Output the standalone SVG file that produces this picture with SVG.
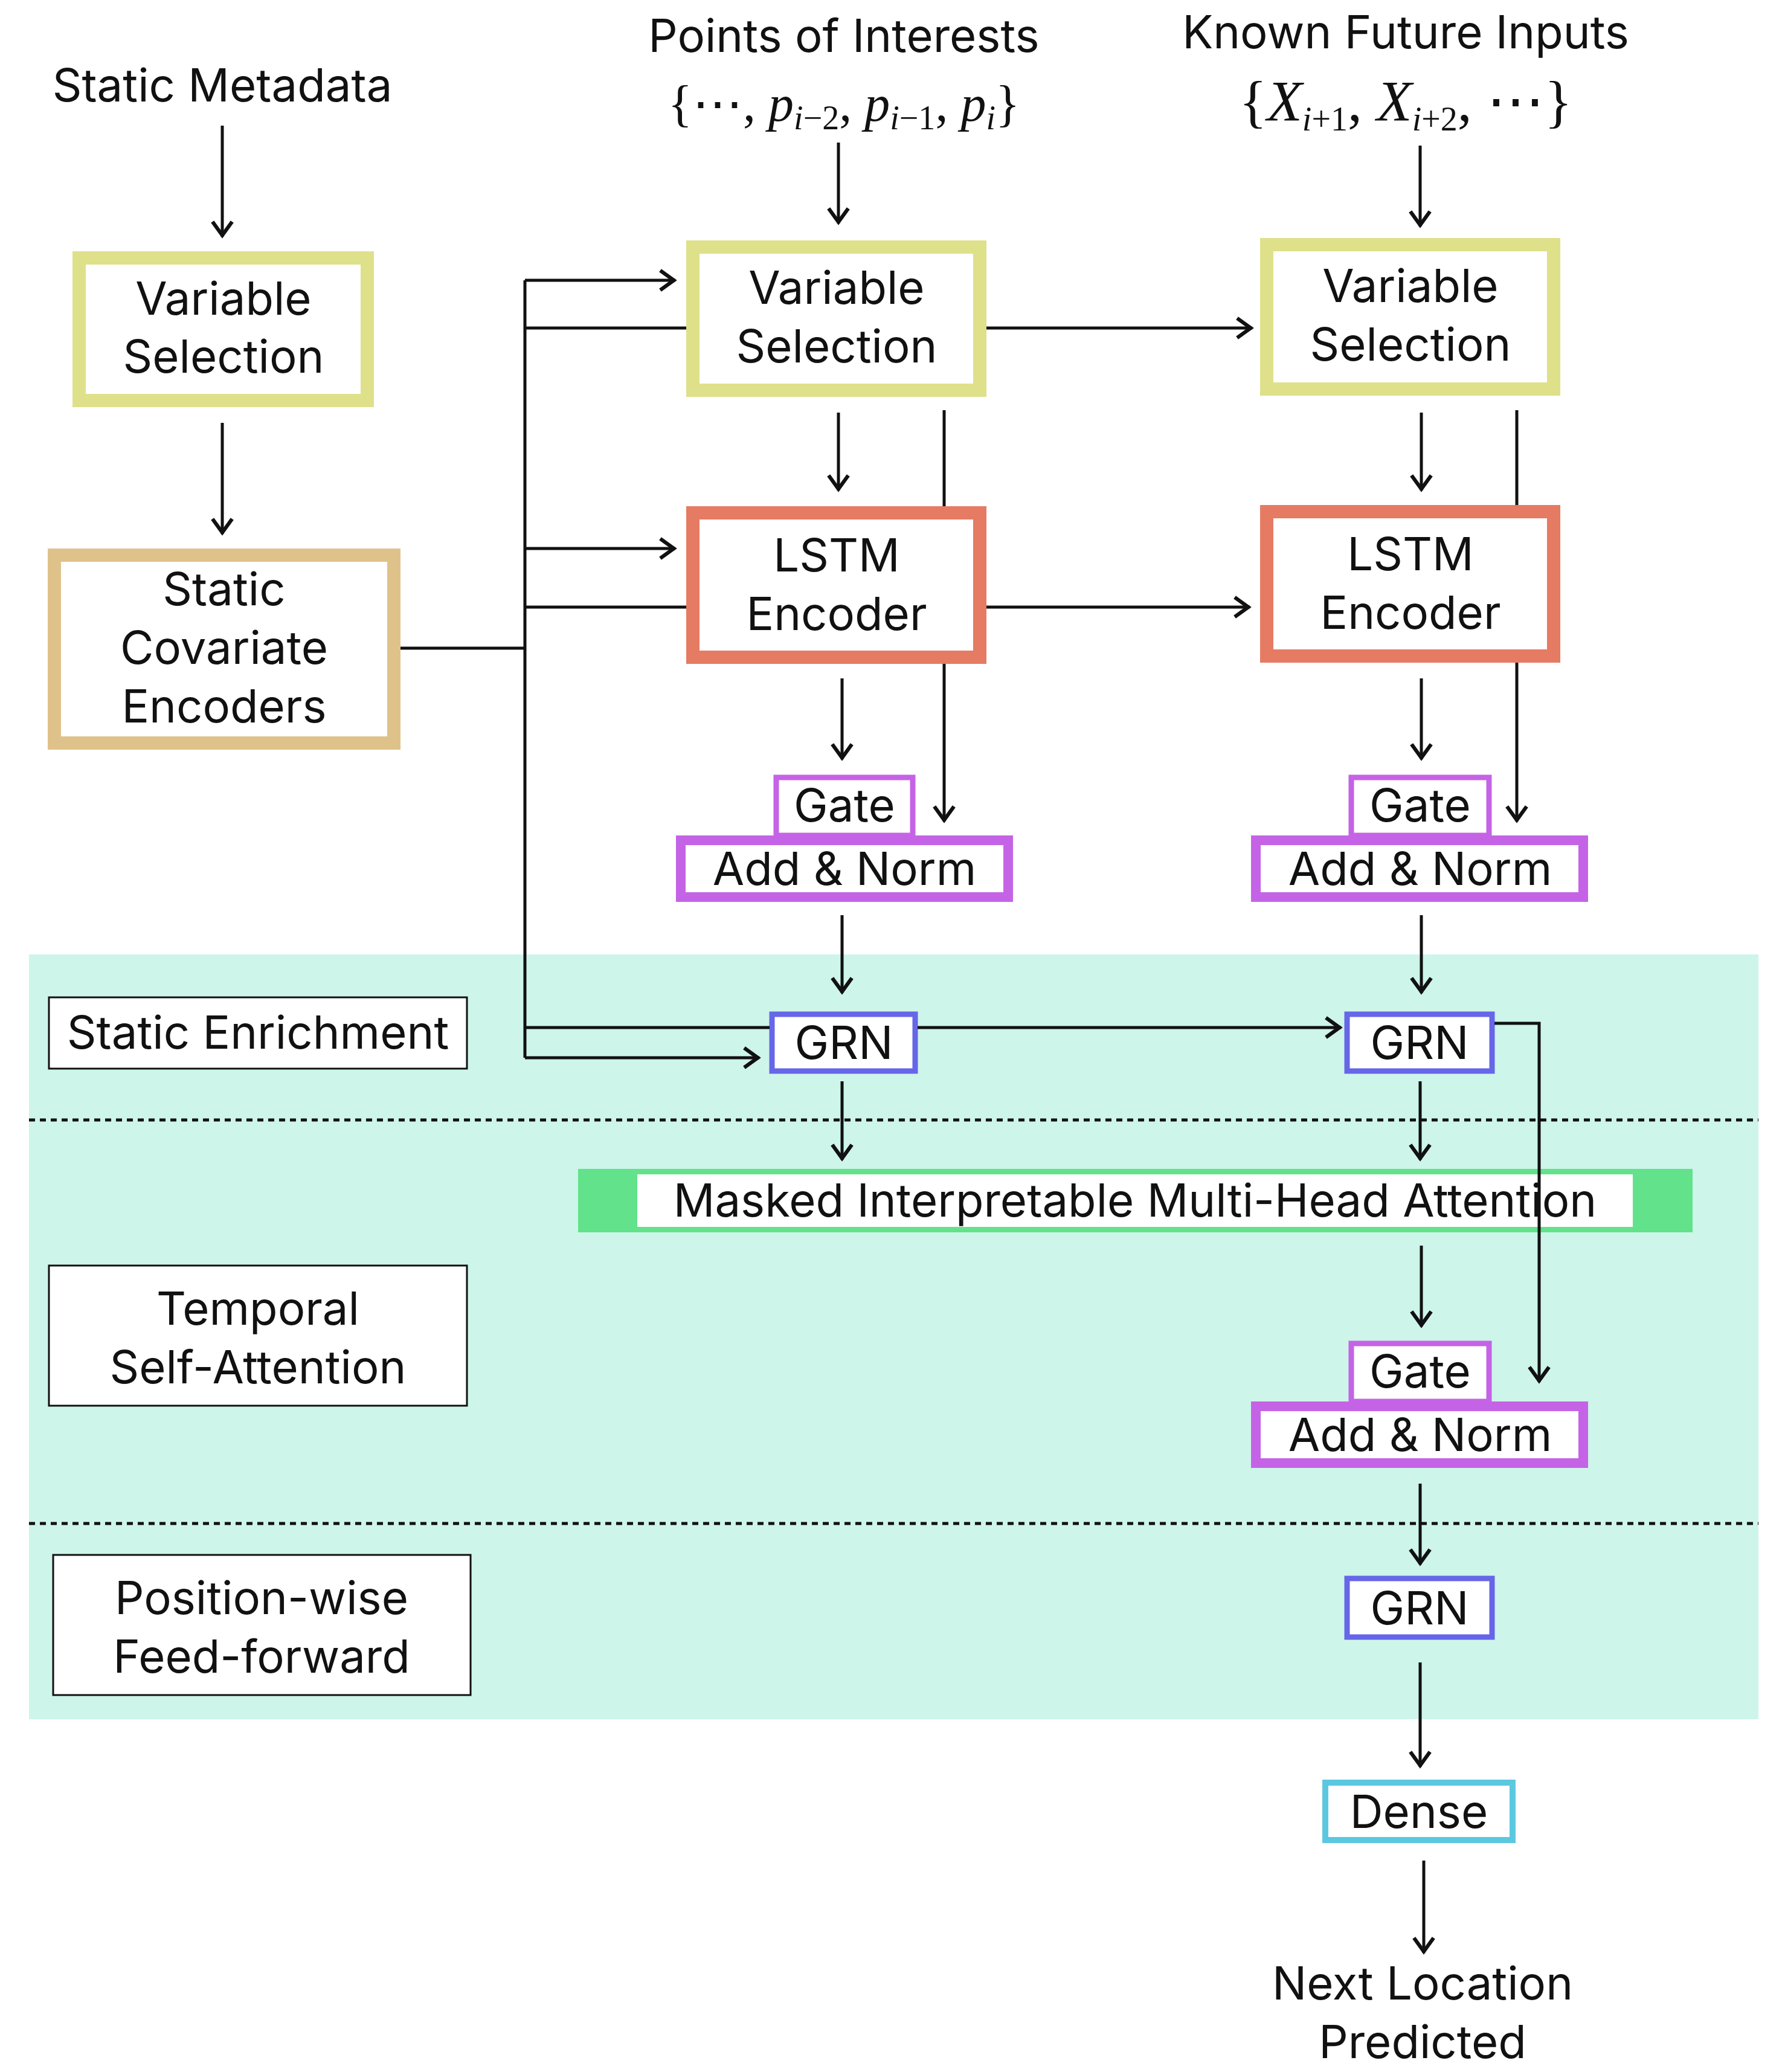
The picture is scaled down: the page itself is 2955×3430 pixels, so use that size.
<svg xmlns="http://www.w3.org/2000/svg" width="2955" height="3430" viewBox="0 0 2955 3430">
<style>
text{font-family:Inter,"Noto Sans","Liberation Sans",sans-serif;font-size:76px;fill:#111;text-anchor:middle}
.m{font-family:"Liberation Serif",serif;font-size:84px}
.i{font-style:italic}
.s{font-size:56px}
.c{stroke:#111;stroke-width:5;fill:none}
.vs{fill:#fff;stroke:#dfe08a;stroke-width:22}
.ls{fill:#fff;stroke:#e57b63;stroke-width:22}
.sc{fill:#fff;stroke:#dfc28a;stroke-width:22}
.g{fill:#fff;stroke:#c563e6;stroke-width:9}
.an{fill:#fff;stroke:#c563e6;stroke-width:16}
.gr{fill:#fff;stroke:#6666e8;stroke-width:9}
.lb{fill:#fff;stroke:#111;stroke-width:3}
</style>
<defs>
<marker id="a" markerUnits="userSpaceOnUse" markerWidth="40" markerHeight="40" refX="2" refY="0" viewBox="-22 -16 26 32" orient="auto">
<path d="M-18,-13 L0,0 L-18,13" fill="none" stroke="#111" stroke-width="5"/>
</marker>
</defs>
<rect x="48" y="1580" width="2863" height="1266" fill="#cdf5ea"/>
<g id="dividers" stroke="#111" stroke-width="5" stroke-dasharray="10,8">
<line x1="48" y1="1854" x2="2911" y2="1854"/>
<line x1="48" y1="2522" x2="2911" y2="2522"/>
</g>
<g id="inputs">
<text x="368" y="168">Static Metadata</text>
<text x="1397" y="86">Points of Interests</text>
<text class="m" x="1397" y="200">{<tspan class="m">⋯</tspan>, <tspan class="i">p</tspan><tspan class="s i" dy="14">i</tspan><tspan class="s" >−2</tspan><tspan dy="-14">, </tspan><tspan class="i">p</tspan><tspan class="s i" dy="14">i</tspan><tspan class="s">−1</tspan><tspan dy="-14">, </tspan><tspan class="i">p</tspan><tspan class="s i" dy="14">i</tspan><tspan dy="-14">}</tspan></text>
<text x="2327" y="80">Known Future Inputs</text>
<text class="m" x="2327" y="200" style="font-size:96px">{<tspan class="i">X</tspan><tspan class="s i" dy="16">i</tspan><tspan class="s">+1</tspan><tspan dy="-16">, </tspan><tspan class="i">X</tspan><tspan class="s i" dy="16">i</tspan><tspan class="s">+2</tspan><tspan dy="-16">, ⋯}</tspan></text>
</g>
<g id="vs1"><rect class="vs" x="131" y="427" width="477" height="236"/><text x="370" y="521">Variable</text><text x="370" y="617">Selection</text></g>
<g id="sce"><rect class="sc" x="90" y="919" width="562" height="311"/><text x="371" y="1002">Static</text><text x="371" y="1099">Covariate</text><text x="371" y="1196">Encoders</text></g>
<g id="vs2"><rect class="vs" x="1147" y="409" width="475" height="237"/><text x="1385" y="503">Variable</text><text x="1385" y="600">Selection</text></g>
<g id="vs3"><rect class="vs" x="2097" y="405" width="475" height="239"/><text x="2335" y="500">Variable</text><text x="2335" y="597">Selection</text></g>
<g id="lstm1"><rect class="ls" x="1147" y="849" width="475" height="239"/><text x="1385" y="946">LSTM</text><text x="1385" y="1043">Encoder</text></g>
<g id="lstm2"><rect class="ls" x="2097" y="847" width="475" height="239"/><text x="2335" y="944">LSTM</text><text x="2335" y="1041">Encoder</text></g>
<g id="gate1"><rect class="g" x="1285" y="1287" width="226" height="96"/><text x="1398" y="1360">Gate</text></g>
<g id="an1"><rect class="an" x="1127" y="1391" width="542" height="94"/><text x="1398" y="1465">Add &amp; Norm</text></g>
<g id="gate2"><rect class="g" x="2237" y="1287" width="228" height="96"/><text x="2351" y="1360">Gate</text></g>
<g id="an2"><rect class="an" x="2079" y="1391" width="542" height="94"/><text x="2351" y="1465">Add &amp; Norm</text></g>
<g id="grn1"><rect class="gr" x="1278" y="1679" width="237" height="94"/><text x="1397" y="1753">GRN</text></g>
<g id="grn2"><rect class="gr" x="2230" y="1679" width="240" height="94"/><text x="2350" y="1753">GRN</text></g>
<g id="mha"><rect x="957" y="1935" width="1845" height="105" fill="#62e28a"/><rect x="1055" y="1944" width="1648" height="87" fill="#fff"/><text x="1879" y="2014">Masked Interpretable Multi-Head Attention</text></g>
<g id="gate3"><rect class="g" x="2237" y="2224" width="228" height="96"/><text x="2351" y="2297">Gate</text></g>
<g id="an3"><rect class="an" x="2079" y="2328" width="542" height="94"/><text x="2351" y="2402">Add &amp; Norm</text></g>
<g id="grn3"><rect class="gr" x="2230" y="2613" width="240" height="97"/><text x="2350" y="2689">GRN</text></g>
<g id="dense"><rect x="2194" y="2951" width="310" height="95" fill="#fff" stroke="#5cc8e0" stroke-width="10"/><text x="2349" y="3026">Dense</text></g>
<g id="output"><text x="2355" y="3310">Next Location</text><text x="2355" y="3407">Predicted</text></g>
<g id="l1"><rect class="lb" x="81" y="1651" width="692" height="118"/><text x="427" y="1736">Static Enrichment</text></g>
<g id="l2"><rect class="lb" x="81" y="2095" width="692" height="232"/><text x="427" y="2193">Temporal</text><text x="427" y="2290">Self-Attention</text></g>
<g id="l3"><rect class="lb" x="88" y="2574" width="691" height="232"/><text x="433" y="2672">Position-wise</text><text x="433" y="2769">Feed-forward</text></g>
<g id="connectors" class="c">
<line x1="368" y1="208" x2="368" y2="392" marker-end="url(#a)"/>
<line x1="368" y1="700" x2="368" y2="884" marker-end="url(#a)"/>
<polyline points="663,1073 869,1073"/>
<line x1="869" y1="464" x2="869" y2="1751"/>
<line x1="869" y1="464" x2="1118" y2="464" marker-end="url(#a)"/>
<line x1="869" y1="543" x2="1136" y2="543"/>
<line x1="869" y1="908" x2="1118" y2="908" marker-end="url(#a)"/>
<line x1="869" y1="1005" x2="1136" y2="1005"/>
<line x1="869" y1="1701" x2="1274" y2="1701"/>
<line x1="869" y1="1751" x2="1257" y2="1751" marker-end="url(#a)"/>
<line x1="1388" y1="236" x2="1388" y2="370" marker-end="url(#a)"/>
<line x1="2351" y1="241" x2="2351" y2="375" marker-end="url(#a)"/>
<line x1="1633" y1="543" x2="2073" y2="543" marker-end="url(#a)"/>
<line x1="1633" y1="1005" x2="2069" y2="1005" marker-end="url(#a)"/>
<line x1="1388" y1="683" x2="1388" y2="812" marker-end="url(#a)"/>
<line x1="2353" y1="683" x2="2353" y2="812" marker-end="url(#a)"/>
<line x1="1563" y1="679" x2="1563" y2="838"/>
<line x1="2511" y1="679" x2="2511" y2="836"/>
<line x1="1563" y1="1099" x2="1563" y2="1360" marker-end="url(#a)"/>
<line x1="2511" y1="1097" x2="2511" y2="1360" marker-end="url(#a)"/>
<line x1="1394" y1="1123" x2="1394" y2="1257" marker-end="url(#a)"/>
<line x1="2353" y1="1123" x2="2353" y2="1257" marker-end="url(#a)"/>
<line x1="1394" y1="1515" x2="1394" y2="1644" marker-end="url(#a)"/>
<line x1="2353" y1="1515" x2="2353" y2="1644" marker-end="url(#a)"/>
<line x1="1519" y1="1701" x2="2220" y2="1701" marker-end="url(#a)"/>
<polyline points="2474,1694 2548,1694 2548,2288" marker-end="url(#a)"/>
<line x1="1394" y1="1790" x2="1394" y2="1920" marker-end="url(#a)"/>
<line x1="2351" y1="1790" x2="2351" y2="1920" marker-end="url(#a)"/>
<line x1="2353" y1="2062" x2="2353" y2="2196" marker-end="url(#a)"/>
<line x1="2351" y1="2456" x2="2351" y2="2590" marker-end="url(#a)"/>
<line x1="2351" y1="2752" x2="2351" y2="2925" marker-end="url(#a)"/>
<line x1="2357" y1="3080" x2="2357" y2="3233" marker-end="url(#a)"/>
</g>
</svg>
